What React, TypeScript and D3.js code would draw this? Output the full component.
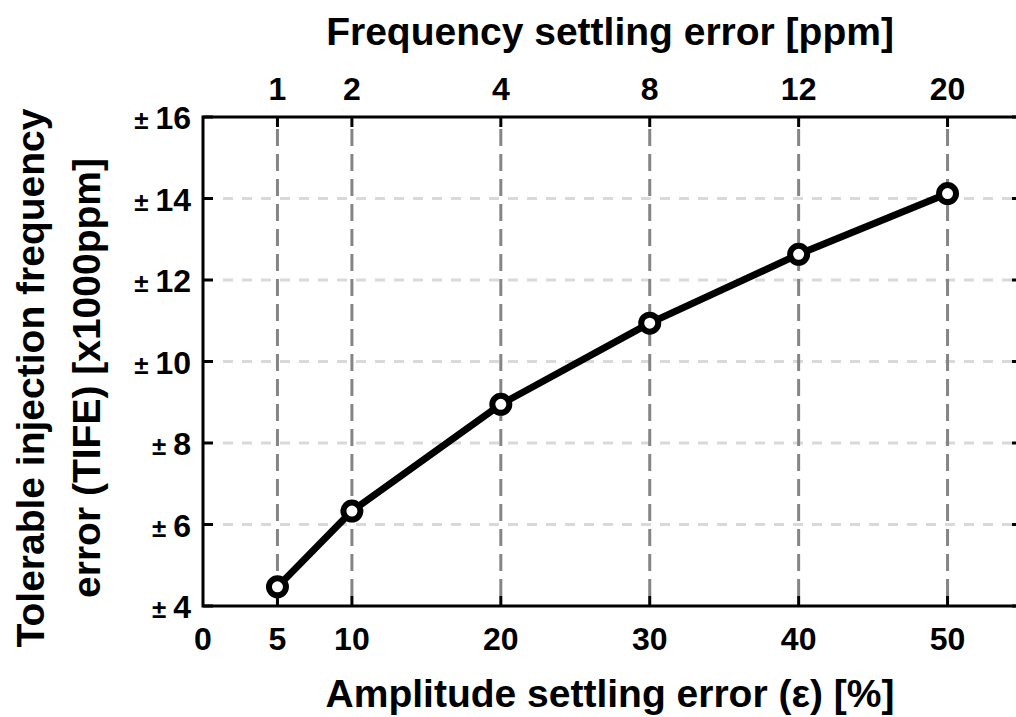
import React, { useEffect, useRef } from "react";
import * as d3 from "d3";

// amplitude settling error (%) vs tolerable injection frequency error (x1000 ppm)
const amplitudeError = [5, 10, 20, 30, 40, 50];
const tife = [4.47, 6.33, 8.95, 10.94, 12.63, 14.12];
const freqSettling = ["1", "2", "4", "8", "12", "20"];
const xTicks = [0, 5, 10, 20, 30, 40, 50];
const yTicks = [4, 6, 8, 10, 12, 14, 16];
const yGrid = [6, 8, 10, 12, 14];

const FONT = "'Liberation Sans', Arial, Helvetica, sans-serif";

export default function App() {
  const ref = useRef<SVGSVGElement>(null);

  useEffect(() => {
    const svg = d3.select(ref.current);
    svg.selectAll("*").remove();

    const left = 203, right = 1022, top = 117, bottom = 606;
    const x = d3.scaleLinear().domain([0, 55]).range([left, right]);
    const y = d3.scaleLinear().domain([4, 16]).range([bottom, top]);

    // grid, horizontal light then vertical darker
    svg.append("g")
      .selectAll("line")
      .data(yGrid)
      .enter()
      .append("line")
      .attr("x1", left + 20)
      .attr("x2", right)
      .attr("y1", (d) => y(d))
      .attr("y2", (d) => y(d))
      .attr("stroke", "#d9d9d9")
      .attr("stroke-width", 3)
      .attr("stroke-dasharray", "10,9");

    svg.append("g")
      .selectAll("line")
      .data(amplitudeError)
      .enter()
      .append("line")
      .attr("x1", (d) => x(d))
      .attr("x2", (d) => x(d))
      .attr("y1", bottom - 10)
      .attr("y2", top + 9)
      .attr("stroke", "#858585")
      .attr("stroke-width", 3)
      .attr("stroke-dasharray", "17,8");

    // frame
    svg.append("rect")
      .attr("x", left)
      .attr("y", top)
      .attr("width", right - left)
      .attr("height", bottom - top)
      .attr("fill", "none")
      .attr("stroke", "#000")
      .attr("stroke-width", 3);

    const ticks = svg.append("g").attr("stroke", "#000").attr("stroke-width", 3);
    xTicks.forEach((t) => {
      if (t === 0) return;
      ticks.append("line").attr("x1", x(t)).attr("x2", x(t)).attr("y1", bottom).attr("y2", bottom - 10);
      ticks.append("line").attr("x1", x(t)).attr("x2", x(t)).attr("y1", top).attr("y2", top + 10);
    });
    yTicks.forEach((t) => {
      ticks.append("line").attr("x1", left).attr("x2", left + 10).attr("y1", y(t)).attr("y2", y(t));
      ticks.append("line").attr("x1", right).attr("x2", right - 10).attr("y1", y(t)).attr("y2", y(t));
    });

    const text = svg.append("g")
      .attr("font-family", FONT)
      .attr("font-weight", "bold")
      .attr("fill", "#000");

    text.selectAll(".xl")
      .data(xTicks)
      .enter()
      .append("text")
      .attr("x", (d) => x(d))
      .attr("y", 650)
      .attr("text-anchor", "middle")
      .attr("font-size", 32)
      .text((d) => d);

    text.selectAll(".tl")
      .data(freqSettling)
      .enter()
      .append("text")
      .attr("x", (d, i) => x(amplitudeError[i]))
      .attr("y", 100)
      .attr("text-anchor", "middle")
      .attr("font-size", 32)
      .text((d) => d);

    const yl = text.selectAll(".yl")
      .data(yTicks)
      .enter()
      .append("text")
      .attr("x", 191)
      .attr("y", (d) => y(d) + 12)
      .attr("text-anchor", "end")
      .attr("font-size", 32);
    yl.append("tspan").attr("font-size", 26).text("\u00b1");
    yl.append("tspan").attr("dx", 7).text((d) => d);

    text.append("text")
      .attr("x", 610)
      .attr("y", 45)
      .attr("text-anchor", "middle")
      .attr("font-size", 39)
      .text("Frequency settling error [ppm]");

    text.append("text")
      .attr("x", 610)
      .attr("y", 707)
      .attr("text-anchor", "middle")
      .attr("font-size", 39)
      .text("Amplitude settling error (\u03b5) [%]");

    const yTitle = text.append("text")
      .attr("transform", "translate(0,378) rotate(-90)")
      .attr("text-anchor", "middle")
      .attr("font-size", 39);
    yTitle.append("tspan").attr("x", 0).attr("y", 44).text("Tolerable injection frequency");
    yTitle.append("tspan").attr("x", 0).attr("y", 100).text("error (TIFE) [x1000ppm]");

    const line = d3.line<number>()
      .x((d, i) => x(amplitudeError[i]))
      .y((d) => y(d));

    svg.append("path")
      .datum(tife)
      .attr("d", line)
      .attr("fill", "none")
      .attr("stroke", "#000")
      .attr("stroke-width", 7)
      .attr("stroke-linejoin", "round");

    svg.append("g")
      .selectAll("circle")
      .data(tife)
      .enter()
      .append("circle")
      .attr("cx", (d, i) => x(amplitudeError[i]))
      .attr("cy", (d) => y(d))
      .attr("r", 8.5)
      .attr("fill", "#fff")
      .attr("stroke", "#000")
      .attr("stroke-width", 6);
  }, []);

  return (
    <svg
      ref={ref}
      width={1016}
      height={717}
      style={{ position: "absolute", left: 0, top: 0, background: "#fff" }}
    />
  );
}
